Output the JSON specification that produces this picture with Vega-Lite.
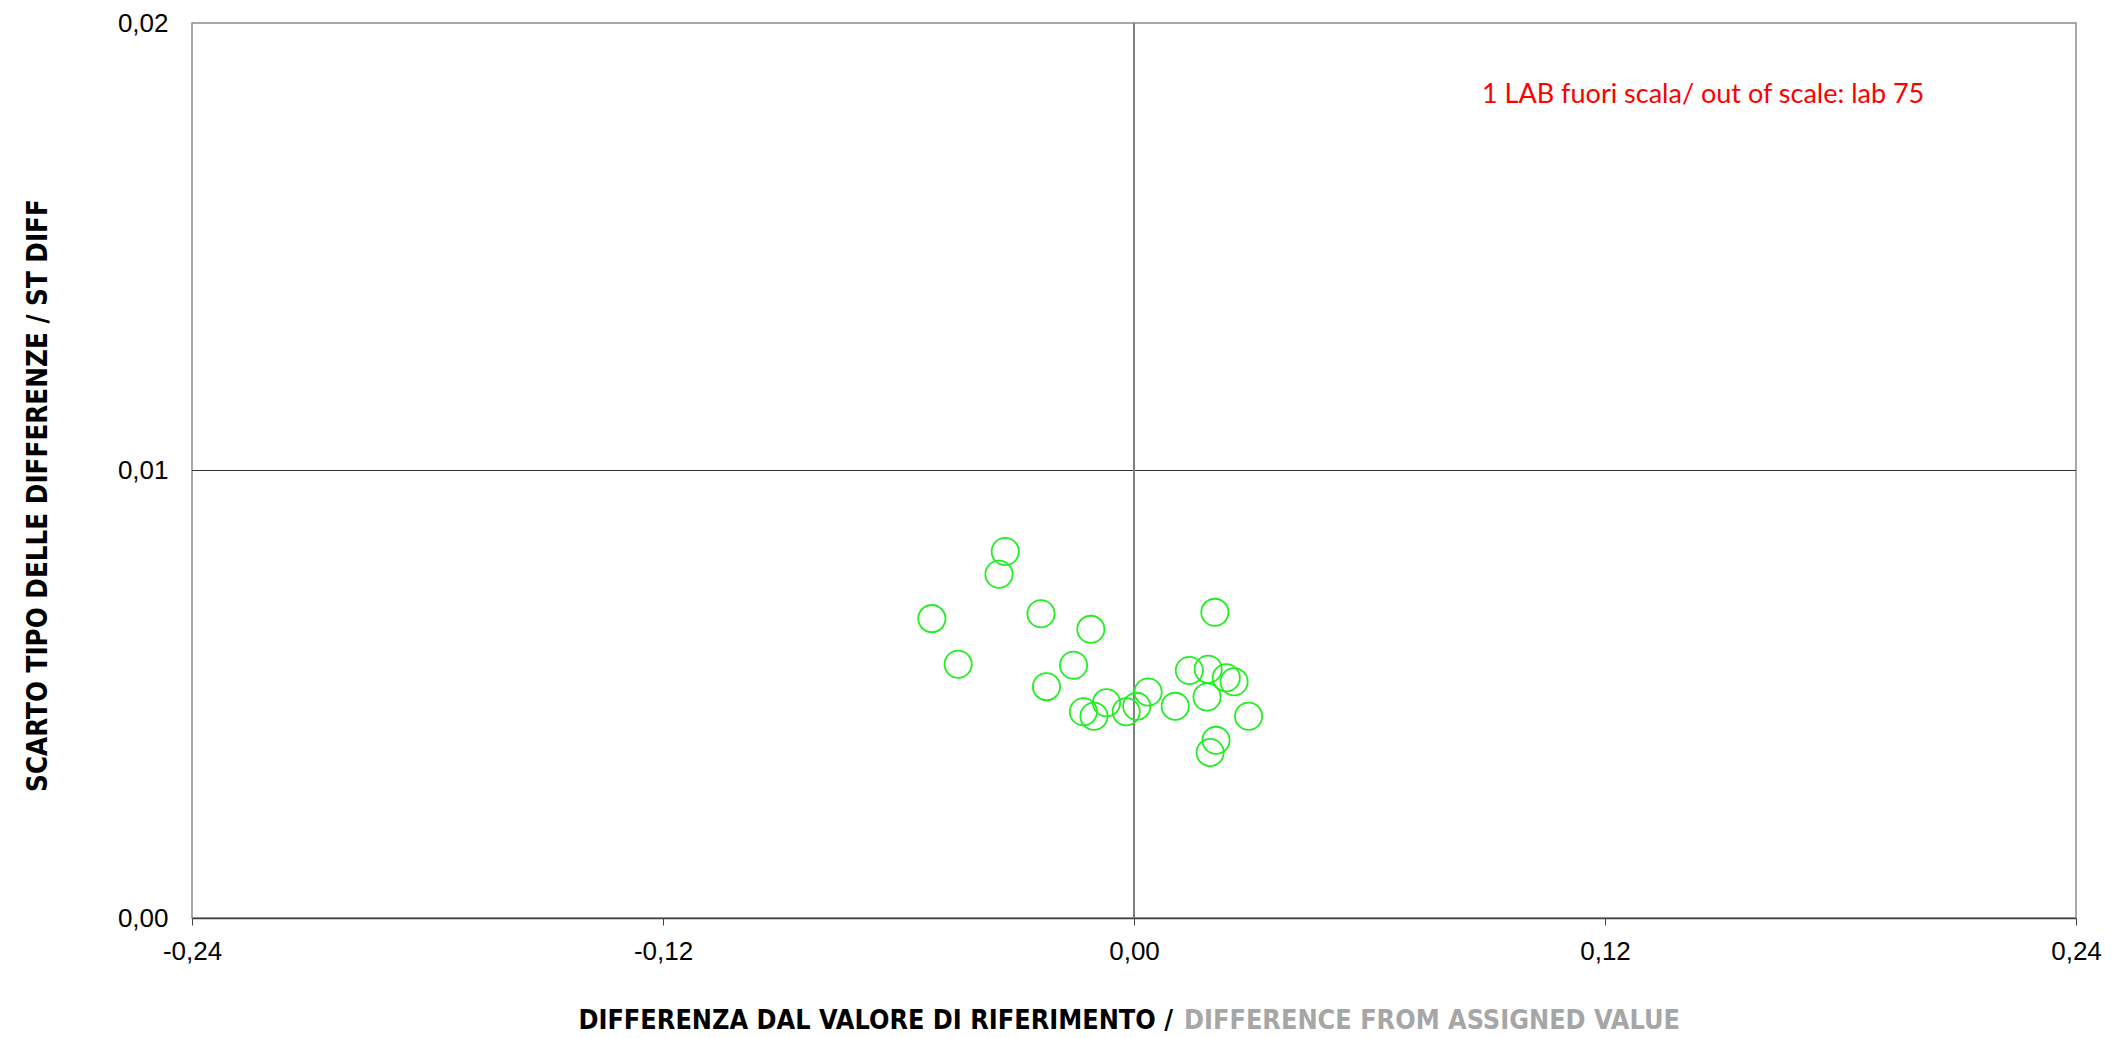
{
  "$schema": "https://vega.github.io/schema/vega-lite/v6.json",
  "width": 1884,
  "height": 895,
  "autosize": {"type": "none"},
  "padding": {"left": 192, "top": 23, "right": 39, "bottom": 120},
  "background": "white",
  "config": {
    "locale": {"number": {"decimal": ",", "thousands": ".", "grouping": [3], "currency": ["", " €"], "minus": "-"}},
    "view": {"stroke": "#8c8c8c", "strokeWidth": 1.5},
    "font": "Liberation Sans"
  },
  "datasets": {
    "labs": [
      {"diff": -0.0328, "sd": 0.00819},
      {"diff": -0.0344, "sd": 0.00768},
      {"diff": -0.0515, "sd": 0.00669},
      {"diff": -0.0237, "sd": 0.00680},
      {"diff": -0.0110, "sd": 0.00645},
      {"diff": -0.0448, "sd": 0.00567},
      {"diff": -0.0154, "sd": 0.00565},
      {"diff": -0.0223, "sd": 0.00517},
      {"diff": -0.0129, "sd": 0.00461},
      {"diff": -0.0102, "sd": 0.00451},
      {"diff": -0.0070, "sd": 0.00481},
      {"diff": -0.0020, "sd": 0.00461},
      {"diff": 0.0007, "sd": 0.00473},
      {"diff": 0.0036, "sd": 0.00505},
      {"diff": 0.0105, "sd": 0.00473},
      {"diff": 0.0206, "sd": 0.00683},
      {"diff": 0.0189, "sd": 0.00556},
      {"diff": 0.0141, "sd": 0.00553},
      {"diff": 0.0255, "sd": 0.00528},
      {"diff": 0.0235, "sd": 0.00537},
      {"diff": 0.0186, "sd": 0.00494},
      {"diff": 0.0292, "sd": 0.00451},
      {"diff": 0.0209, "sd": 0.00397},
      {"diff": 0.0194, "sd": 0.00370}
    ],
    "refY": [{"v": 0.01}],
    "refX": [{"v": 0}],
    "note": [{"x": 0.145, "y": 0.01838, "text": "1 LAB fuori scala/ out of scale: lab 75"}],
    "xtitle": [{"x": 0.0112, "y": -0.0023, "it": "DIFFERENZA DAL VALORE DI RIFERIMENTO /", "en": "DIFFERENCE FROM ASSIGNED VALUE"}]
  },
  "layer": [
    {
      "data": {"name": "refY"},
      "mark": {"type": "rule", "color": "#333333", "strokeWidth": 1.2},
      "encoding": {"y": {"field": "v", "type": "quantitative"}}
    },
    {
      "data": {"name": "refX"},
      "mark": {"type": "rule", "color": "#808080", "strokeWidth": 2},
      "encoding": {"x": {"field": "v", "type": "quantitative"}}
    },
    {
      "data": {"name": "labs"},
      "mark": {"type": "point", "shape": "circle", "filled": false, "stroke": "#22ee22", "strokeWidth": 1.8, "size": 740, "opacity": 1},
      "encoding": {
        "x": {
          "field": "diff", "type": "quantitative",
          "scale": {"domain": [-0.24, 0.24], "nice": false, "zero": false},
          "axis": {
            "values": [-0.24, -0.12, 0, 0.12, 0.24], "format": ".2f", "title": null, "grid": false, "labelFlush": false,
            "domainColor": "#404040", "domainWidth": 1.5, "tickColor": "#404040", "tickSize": 7, "tickWidth": 1,
            "labelFontSize": 26, "labelColor": "#000000", "labelPadding": 13, "labelFont": "Liberation Sans"
          }
        },
        "y": {
          "field": "sd", "type": "quantitative",
          "scale": {"domain": [0, 0.02], "nice": false, "zero": false},
          "axis": {
            "values": [0, 0.01, 0.02], "format": ".2f", "grid": false, "domain": false, "ticks": false, "labelFlush": false,
            "labelFontSize": 26, "labelColor": "#000000", "labelPadding": 24, "labelFont": "Liberation Sans",
            "title": "SCARTO TIPO DELLE DIFFERENZE / ST DIFF",
            "titleFont": "Liberation Sans Narrow, DejaVu Sans Condensed, sans-serif", "titleFontWeight": "bold", "titleFontSize": 27.5,
            "titleColor": "#000000", "titleX": -154, "titleY": 472, "titleBaseline": "middle", "titleAnchor": "middle"
          }
        }
      }
    },
    {
      "data": {"name": "note"},
      "mark": {"type": "text", "color": "#ff0000", "fontSize": 27, "font": "Lato", "align": "center", "baseline": "middle"},
      "encoding": {
        "x": {"field": "x", "type": "quantitative"},
        "y": {"field": "y", "type": "quantitative"},
        "text": {"field": "text"}
      }
    },
    {
      "data": {"name": "xtitle"},
      "mark": {"type": "text", "color": "#000000", "fontSize": 26.8, "fontWeight": "bold", "font": "Liberation Sans Narrow, DejaVu Sans Condensed, sans-serif", "align": "right", "baseline": "middle", "dx": -5, "clip": false},
      "encoding": {
        "x": {"field": "x", "type": "quantitative"},
        "y": {"field": "y", "type": "quantitative"},
        "text": {"field": "it"}
      }
    },
    {
      "data": {"name": "xtitle"},
      "mark": {"type": "text", "color": "#a6a6a6", "fontSize": 26.8, "fontWeight": "bold", "font": "Liberation Sans Narrow, DejaVu Sans Condensed, sans-serif", "align": "left", "baseline": "middle", "dx": 6, "clip": false},
      "encoding": {
        "x": {"field": "x", "type": "quantitative"},
        "y": {"field": "y", "type": "quantitative"},
        "text": {"field": "en"}
      }
    }
  ]
}
